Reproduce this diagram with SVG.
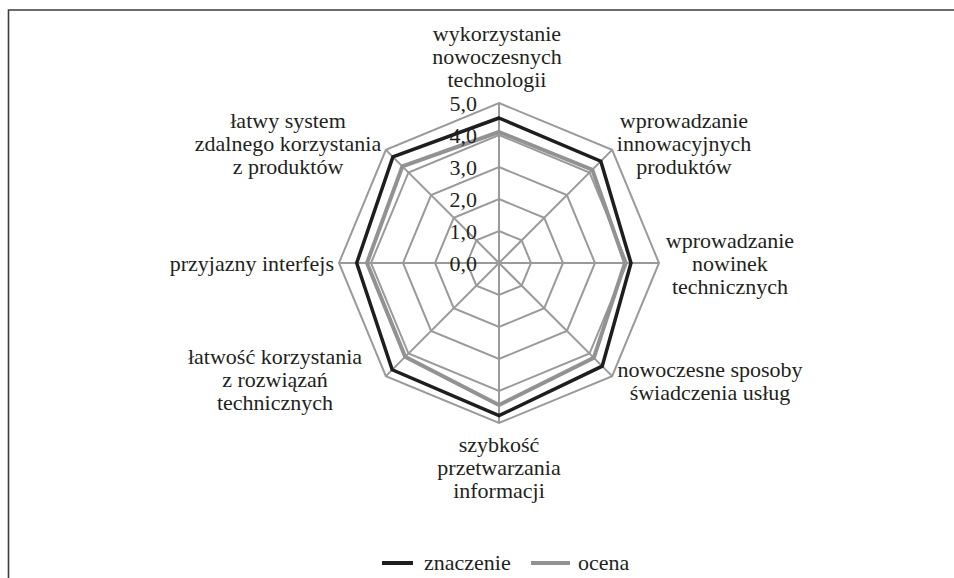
<svg xmlns="http://www.w3.org/2000/svg" width="954" height="578" viewBox="0 0 954 578">
<style>
text{font-size:22px;fill:#231f20}
.ring{fill:none;stroke:#9a9a9a;stroke-width:2}
.spoke{stroke:#9a9a9a;stroke-width:2}
.s1{fill:none;stroke:#1e1e1e;stroke-width:3.5;stroke-linejoin:miter}
.s2{fill:none;stroke:#929292;stroke-width:4;stroke-linejoin:miter}
.c{text-anchor:middle}
.e{text-anchor:end}
</style>
<rect width="954" height="578" fill="#ffffff"/>
<path d="M8.5,578 V10 H954" fill="none" stroke="#3c3c3c" stroke-width="1.6"/>
<g id="grid">
<polygon class="ring" points="499,231 521.63,240.37 531,263 521.63,285.63 499,295 476.37,285.63 467,263 476.37,240.37"/>
<polygon class="ring" points="499,199 544.25,217.75 563,263 544.25,308.25 499,327 453.75,308.25 435,263 453.75,217.75"/>
<polygon class="ring" points="499,167 566.88,195.12 595,263 566.88,330.88 499,359 431.12,330.88 403,263 431.12,195.12"/>
<polygon class="ring" points="499,135 589.51,172.49 627,263 589.51,353.51 499,391 408.49,353.51 371,263 408.49,172.49"/>
<polygon class="ring" points="499,103 612.14,149.86 659,263 612.14,376.14 499,423 385.86,376.14 339,263 385.86,149.86"/>
</g>
<g id="connectors">
<line class="spoke" x1="499" y1="263" x2="499" y2="103"/>
<line class="spoke" x1="499" y1="263" x2="612.14" y2="149.86"/>
<line class="spoke" x1="499" y1="263" x2="659" y2="263"/>
<line class="spoke" x1="499" y1="263" x2="612.14" y2="376.14"/>
<line class="spoke" x1="499" y1="263" x2="499" y2="423"/>
<line class="spoke" x1="499" y1="263" x2="385.86" y2="376.14"/>
<line class="spoke" x1="499" y1="263" x2="339" y2="263"/>
<line class="spoke" x1="499" y1="263" x2="385.86" y2="149.86"/>
</g>
<g id="series-ocena">
<polygon class="s2" points="499,132 592.3,169.7 625,263 593.8,357.8 499,405 405.2,356.8 367,263 402.4,166.4"/>
</g>
<g id="series-znaczenie">
<polygon class="s1" points="499,118 600.8,161.2 631,263 602.2,366.2 499,415.7 392.2,369.8 356.7,263 392.9,156.9"/>
</g>
<g font-family="'Liberation Serif', 'Times New Roman', 'DejaVu Serif', serif">
<g id="scale">
<text class="e" x="477" y="111">5,0</text>
<text class="e" x="477" y="143">4,0</text>
<text class="e" x="477" y="175">3,0</text>
<text class="e" x="477" y="207">2,0</text>
<text class="e" x="477" y="239">1,0</text>
<text class="e" x="477" y="271">0,0</text>
</g>
<g id="label-top">
<text class="c" x="497" y="41">wykorzystanie</text>
<text class="c" x="497" y="64">nowoczesnych</text>
<text class="c" x="497" y="87">technologii</text>
</g>
<g id="label-top-right">
<text class="c" x="684" y="128">wprowadzanie</text>
<text class="c" x="684" y="151">innowacyjnych</text>
<text class="c" x="684" y="174">produktów</text>
</g>
<g id="label-right">
<text class="c" x="730" y="248">wprowadzanie</text>
<text class="c" x="730" y="271">nowinek</text>
<text class="c" x="730" y="294">technicznych</text>
</g>
<g id="label-bottom-right">
<text class="c" x="710" y="377">nowoczesne sposoby</text>
<text class="c" x="710" y="400">świadczenia usług</text>
</g>
<g id="label-bottom">
<text class="c" x="499" y="452">szybkość</text>
<text class="c" x="499" y="475">przetwarzania</text>
<text class="c" x="499" y="498">informacji</text>
</g>
<g id="label-bottom-left">
<text class="c" x="275" y="364">łatwość korzystania</text>
<text class="c" x="275" y="387">z rozwiązań</text>
<text class="c" x="275" y="410">technicznych</text>
</g>
<g id="label-left">
<text class="e" x="334" y="271">przyjazny interfejs</text>
</g>
<g id="label-top-left">
<text class="c" x="288" y="128">łatwy system</text>
<text class="c" x="288" y="151">zdalnego korzystania</text>
<text class="c" x="288" y="174">z produktów</text>
</g>
<g id="legend">
<line x1="382" y1="563" x2="413" y2="563" stroke="#1e1e1e" stroke-width="4"/>
<text x="424" y="570">znaczenie</text>
<line x1="531" y1="563" x2="570" y2="563" stroke="#929292" stroke-width="4"/>
<text x="578" y="570">ocena</text>
</g>
</g>
</svg>
